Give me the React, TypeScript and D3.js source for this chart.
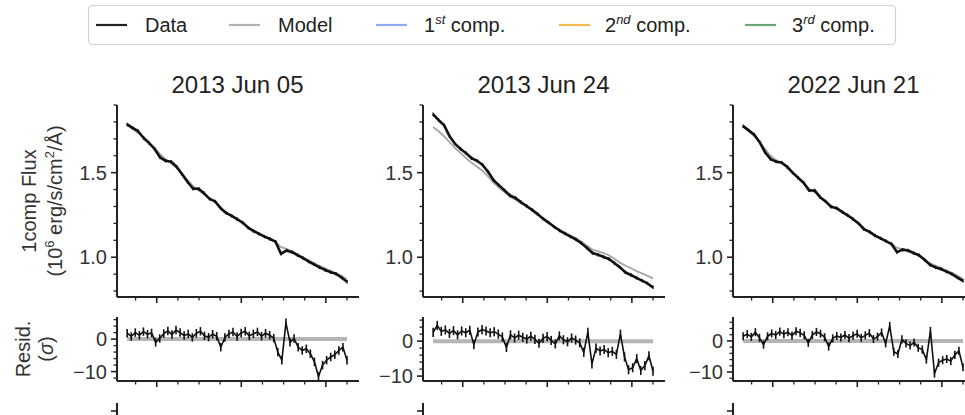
import React from "react";
import * as d3 from "d3";

// ---------- data ----------
const panelTitles = ["2013 Jun 05", "2013 Jun 24", "2022 Jun 21"];
const legendLabels = ["Data", "Model", "1", "2", "3"];
const legendSups = ["", "", "st", "nd", "rd"];
const legendColors = ["#222222", "#b3b3b3", "#8eaaf0", "#f5bd4f", "#6aa57a"];

const fluxWave = d3.range(41).map((i) => 3965 + i * 6.5);
const residWave = d3.range(55).map((i) => 3965 + (i * 260) / 54);

const flux1 = [1.785, 1.765, 1.745, 1.705, 1.675, 1.64, 1.59, 1.57, 1.565, 1.535, 1.49, 1.445, 1.405, 1.405, 1.378, 1.345, 1.33, 1.29, 1.262, 1.245, 1.225, 1.205, 1.175, 1.155, 1.138, 1.122, 1.108, 1.092, 1.02, 1.04, 1.03, 1.012, 0.995, 0.975, 0.958, 0.94, 0.925, 0.912, 0.902, 0.88, 0.855];
const model1 = [1.78, 1.758, 1.735, 1.708, 1.678, 1.645, 1.61, 1.58, 1.555, 1.528, 1.495, 1.455, 1.42, 1.395, 1.372, 1.348, 1.325, 1.295, 1.268, 1.248, 1.226, 1.204, 1.178, 1.158, 1.14, 1.124, 1.108, 1.09, 1.06, 1.05, 1.035, 1.018, 1.0, 0.982, 0.965, 0.95, 0.935, 0.92, 0.905, 0.89, 0.87];
const flux2 = [1.845, 1.81, 1.78, 1.715, 1.67, 1.64, 1.615, 1.585, 1.57, 1.545, 1.505, 1.455, 1.425, 1.395, 1.365, 1.35, 1.325, 1.303, 1.28, 1.255, 1.228, 1.205, 1.18, 1.158, 1.14, 1.122, 1.105, 1.082, 1.055, 1.025, 1.015, 1.002, 0.99, 0.965, 0.94, 0.91, 0.895, 0.878, 0.862, 0.845, 0.822];
const model2 = [1.77, 1.745, 1.715, 1.68, 1.645, 1.615, 1.585, 1.558, 1.535, 1.51, 1.478, 1.44, 1.41, 1.385, 1.358, 1.34, 1.318, 1.298, 1.276, 1.252, 1.228, 1.206, 1.183, 1.162, 1.145, 1.128, 1.112, 1.092, 1.068, 1.045, 1.035, 1.025, 1.012, 0.99, 0.968, 0.95, 0.935, 0.918, 0.905, 0.89, 0.875];
const flux3 = [1.775, 1.75, 1.725, 1.68, 1.62, 1.58, 1.565, 1.56, 1.535, 1.5, 1.47, 1.44, 1.395, 1.395, 1.355, 1.33, 1.298, 1.29, 1.268, 1.248, 1.225, 1.2, 1.165, 1.15, 1.128, 1.112, 1.095, 1.078, 1.03, 1.045, 1.04, 1.025, 1.012, 0.985, 0.955, 0.94, 0.93, 0.915, 0.9, 0.88, 0.86];
const model3 = [1.772, 1.748, 1.718, 1.682, 1.64, 1.6, 1.575, 1.555, 1.53, 1.5, 1.47, 1.438, 1.405, 1.385, 1.358, 1.332, 1.305, 1.288, 1.268, 1.248, 1.226, 1.202, 1.172, 1.152, 1.13, 1.112, 1.096, 1.078, 1.055, 1.048, 1.04, 1.026, 1.01, 0.988, 0.965, 0.95, 0.938, 0.922, 0.908, 0.89, 0.872];

const resid1 = [1.8, 0.8, 2.0, 1.2, 2.3, 1.5, 1.9, -1.0, 0.2, 1.7, 2.5, 1.4, 2.8, 2.0, 1.1, 1.6, 0.5, 1.8, 2.4, 1.0, 0.6, 1.5, 0.9, -2.5, 0.5, 1.6, 2.2, 0.8, 1.9, 2.4, 1.0, 1.6, 2.2, 0.9, 1.8, 1.2, 0.3, -4.0, -6.5, 5.0, -1.0, 0.2, -2.5, -3.5, -3.0, -4.5, -7.0, -11.5, -8.0, -6.5, -5.5, -4.8, -3.5, -2.5, -6.5];
const resid2 = [2.5, 4.5, 2.8, 3.2, 2.2, 3.0, 1.8, 2.9, 2.4, 3.1, -1.0, 2.6, 3.3, 2.9, 2.4, 2.7, 2.0, 1.2, -1.8, 1.8, 0.9, 1.7, 1.1, 0.6, 1.4, 0.5, -0.6, 0.8, 1.3, 0.2, -0.8, 1.5, 0.4, -0.2, 0.9, 0.3, -0.5, -3.2, 2.5, -6.5, -2.0, -2.8, -2.4, -3.3, -2.9, -3.8, 2.0, -4.5, -8.2, -7.6, -5.0, -8.4, -7.0, -4.2, -8.6];
const resid3 = [1.5, 2.2, 1.3, 2.8, 1.0, -1.2, 1.5, 2.4, 1.9, 3.0, 2.2, 2.8, 1.7, 3.1, 2.6, 1.8, -0.6, 1.9, 2.9, 2.3, 1.2, -1.8, 0.8, 1.6, 1.1, 1.9, 0.9, 1.7, 2.3, 1.0, 1.8, 2.5, 0.6, 1.4, 2.7, -0.8, 4.8, -3.5, -4.2, 0.5, -0.8, -1.5, -0.5, -2.2, -2.8, -6.0, 3.2, -10.5, -7.0, -6.2, -5.8, -6.5, -4.5, -3.2, -8.5];

const fluxSeries = [flux1, flux2, flux3];
const modelSeries = [model1, model2, model3];
const residSeries = [resid1, resid2, resid3];
const residLimits = [[-12.9, 6.8], [-11.4, 6.9], [-12.9, 7.7]];

const fluxMajorTicks = [1.0, 1.5];
const fluxMinorTicks = [0.8, 0.9, 1.1, 1.2, 1.3, 1.4, 1.6, 1.7, 1.8, 1.9];
const residMajorTicks = [0, -10];
const residMinorTicks = [6, 4, 2, -2, -4, -6, -8, -12];
const xMajorTicks = [4000, 4100, 4200];
const xMinorTicks = [3975, 4025, 4050, 4075, 4125, 4150, 4175, 4225];

// ---------- layout ----------
const W = 965;
const H = 415;
const panelLefts = [117, 423, 733];
const panelW = 241;
const fluxTop = 105;
const fluxBottom = 297;
const residTop = 317;
const residBottom = 381;
const FONT = "'Liberation Sans', Arial, Helvetica, sans-serif";
const AX = "#222";
const TXT = "#333";

const x = d3.scaleLinear().domain([3953, 4238]).range([0, panelW]);
const yFlux = d3.scaleLinear().domain([0.765, 1.9]).range([fluxBottom, fluxTop]);

function XTicks({ y }: { y: number }) {
  return (
    <g>
      {xMajorTicks.map((t) => (
        <line key={"M" + t} x1={x(t)} x2={x(t)} y1={y} y2={y + 6} stroke={AX} strokeWidth={1.6} />
      ))}
      {xMinorTicks.map((t) => (
        <line key={"m" + t} x1={x(t)} x2={x(t)} y1={y} y2={y + 3.5} stroke={AX} strokeWidth={1.3} />
      ))}
    </g>
  );
}

function Panel({ idx }: { idx: number }) {
  const left = panelLefts[idx];
  const flux = fluxSeries[idx];
  const model = modelSeries[idx];
  const resid = residSeries[idx];
  const yRes = d3.scaleLinear().domain(residLimits[idx]).range([residBottom, residTop]);
  const lineFlux = d3
    .line<number>()
    .x((_, i) => x(fluxWave[i]))
    .y((d) => yFlux(d));
  const lineRes = d3
    .line<number>()
    .x((_, i) => x(residWave[i]))
    .y((d) => yRes(d));
  const [lo, hi] = residLimits[idx];
  return (
    <g transform={`translate(${left},0)`}>
      <text x={panelW / 2} y={93} textAnchor="middle" fontSize={24} fill="#222">
        {panelTitles[idx]}
      </text>

      {/* flux panel */}
      <path d={lineFlux(model) || ""} fill="none" stroke="#a6a6a6" strokeWidth={1.8} />
      <path d={lineFlux(flux) || ""} fill="none" stroke="#111" strokeWidth={2.6} strokeLinejoin="round" />
      {flux.map((f, i) => (
        <line
          key={"fe" + i}
          x1={x(fluxWave[i])}
          x2={x(fluxWave[i])}
          y1={yFlux(f - 0.01)}
          y2={yFlux(f + 0.01)}
          stroke="#111"
          strokeWidth={1.4}
        />
      ))}
      <line x1={0} x2={0} y1={fluxTop} y2={fluxBottom} stroke={AX} strokeWidth={2} />
      <line x1={0} x2={panelW + 1} y1={fluxBottom} y2={fluxBottom} stroke={AX} strokeWidth={2} />
      {fluxMajorTicks.map((t) => (
        <g key={"fM" + t}>
          <line x1={-6} x2={0} y1={yFlux(t)} y2={yFlux(t)} stroke={AX} strokeWidth={1.6} />
          <text x={-10} y={yFlux(t)} dy="0.36em" textAnchor="end" fontSize={20} fill={TXT}>
            {t.toFixed(1)}
          </text>
        </g>
      ))}
      {fluxMinorTicks.map((t) => (
        <line key={"fm" + t} x1={-3.5} x2={0} y1={yFlux(t)} y2={yFlux(t)} stroke={AX} strokeWidth={1.3} />
      ))}
      <XTicks y={fluxBottom} />

      {/* residual panel */}
      <line
        x1={x(residWave[0])}
        x2={x(residWave[residWave.length - 1])}
        y1={yRes(0)}
        y2={yRes(0)}
        stroke="#b5b5b5"
        strokeWidth={4}
      />
      <path d={lineRes(resid) || ""} fill="none" stroke="#111" strokeWidth={1.6} strokeLinejoin="round" />
      {resid.map((r, i) => (
        <line
          key={"e" + i}
          x1={x(residWave[i])}
          x2={x(residWave[i])}
          y1={yRes(r - 1.3)}
          y2={yRes(r + 1.3)}
          stroke="#111"
          strokeWidth={1.6}
        />
      ))}
      <line x1={0} x2={0} y1={residTop} y2={residBottom} stroke={AX} strokeWidth={2} />
      <line x1={0} x2={panelW + 1} y1={residBottom} y2={residBottom} stroke={AX} strokeWidth={2} />
      {residMajorTicks.map((t) => (
        <g key={"rM" + t}>
          <line x1={-6} x2={0} y1={yRes(t)} y2={yRes(t)} stroke={AX} strokeWidth={1.6} />
          <text x={-10} y={yRes(t)} dy="0.36em" textAnchor="end" fontSize={20} fill={TXT}>
            {t < 0 ? "\u2212" + Math.abs(t) : String(t)}
          </text>
        </g>
      ))}
      {residMinorTicks
        .filter((t) => t >= lo && t <= hi)
        .map((t) => (
          <line key={"rm" + t} x1={-3.5} x2={0} y1={yRes(t)} y2={yRes(t)} stroke={AX} strokeWidth={1.3} />
        ))}
      <XTicks y={residBottom} />

      {/* top of the next row */}
      <line x1={0} x2={0} y1={403} y2={H} stroke={AX} strokeWidth={2} />
      <line x1={-6} x2={0} y1={411} y2={411} stroke={AX} strokeWidth={1.6} />
    </g>
  );
}

function Legend() {
  const lineX = [96, 229, 376, 559, 745];
  const textX = [145, 278, 424, 605, 792];
  const cy = 25;
  return (
    <g>
      <rect x={88.5} y={5.5} width={807} height={39} rx={4} fill="#fff" stroke="#d4d4d4" strokeWidth={1.2} />
      {legendLabels.map((lab, i) => (
        <g key={lab}>
          <line x1={lineX[i]} x2={lineX[i] + 31} y1={cy} y2={cy} stroke={legendColors[i]} strokeWidth={2.2} />
          <text x={textX[i]} y={cy + 7} fontSize={20} fill="#222">
            {lab}
            {legendSups[i] ? (
              <>
                <tspan fontSize={13} fontStyle="italic" dy={-8}>
                  {legendSups[i]}
                </tspan>
                <tspan dy={8}> comp.</tspan>
              </>
            ) : null}
          </text>
        </g>
      ))}
    </g>
  );
}

export default function App() {
  const yMid = (fluxTop + fluxBottom) / 2;
  const rMid = (residTop + residBottom) / 2;
  return (
    <svg
      width={W}
      height={H}
      viewBox={`0 0 ${W} ${H}`}
      style={{ position: "absolute", left: 0, top: 0, background: "#fff" }}
      fontFamily={FONT}
    >
      <rect x={0} y={0} width={W} height={H} fill="#fff" />
      <Legend />
      {panelTitles.map((_, i) => (
        <Panel key={i} idx={i} />
      ))}
      <text transform={`translate(29,${yMid}) rotate(-90)`} textAnchor="middle" dy="0.36em" fontSize={20} fill={TXT}>
        1comp Flux
      </text>
      <text transform={`translate(55,${yMid}) rotate(-90)`} textAnchor="middle" dy="0.36em" fontSize={20} fill={TXT}>
        (10
        <tspan fontSize={13} dy={-8}>6</tspan>
        <tspan dy={8}> erg/s/cm</tspan>
        <tspan fontSize={13} dy={-8}>2</tspan>
        <tspan dy={8}>/Å)</tspan>
      </text>
      <text transform={`translate(23,${rMid}) rotate(-90)`} textAnchor="middle" dy="0.36em" fontSize={20} fill={TXT}>
        Resid.
      </text>
      <text transform={`translate(46,${rMid}) rotate(-90)`} textAnchor="middle" dy="0.36em" fontSize={20} fill={TXT}>
        (<tspan fontStyle="italic">σ</tspan>)
      </text>
    </svg>
  );
}
